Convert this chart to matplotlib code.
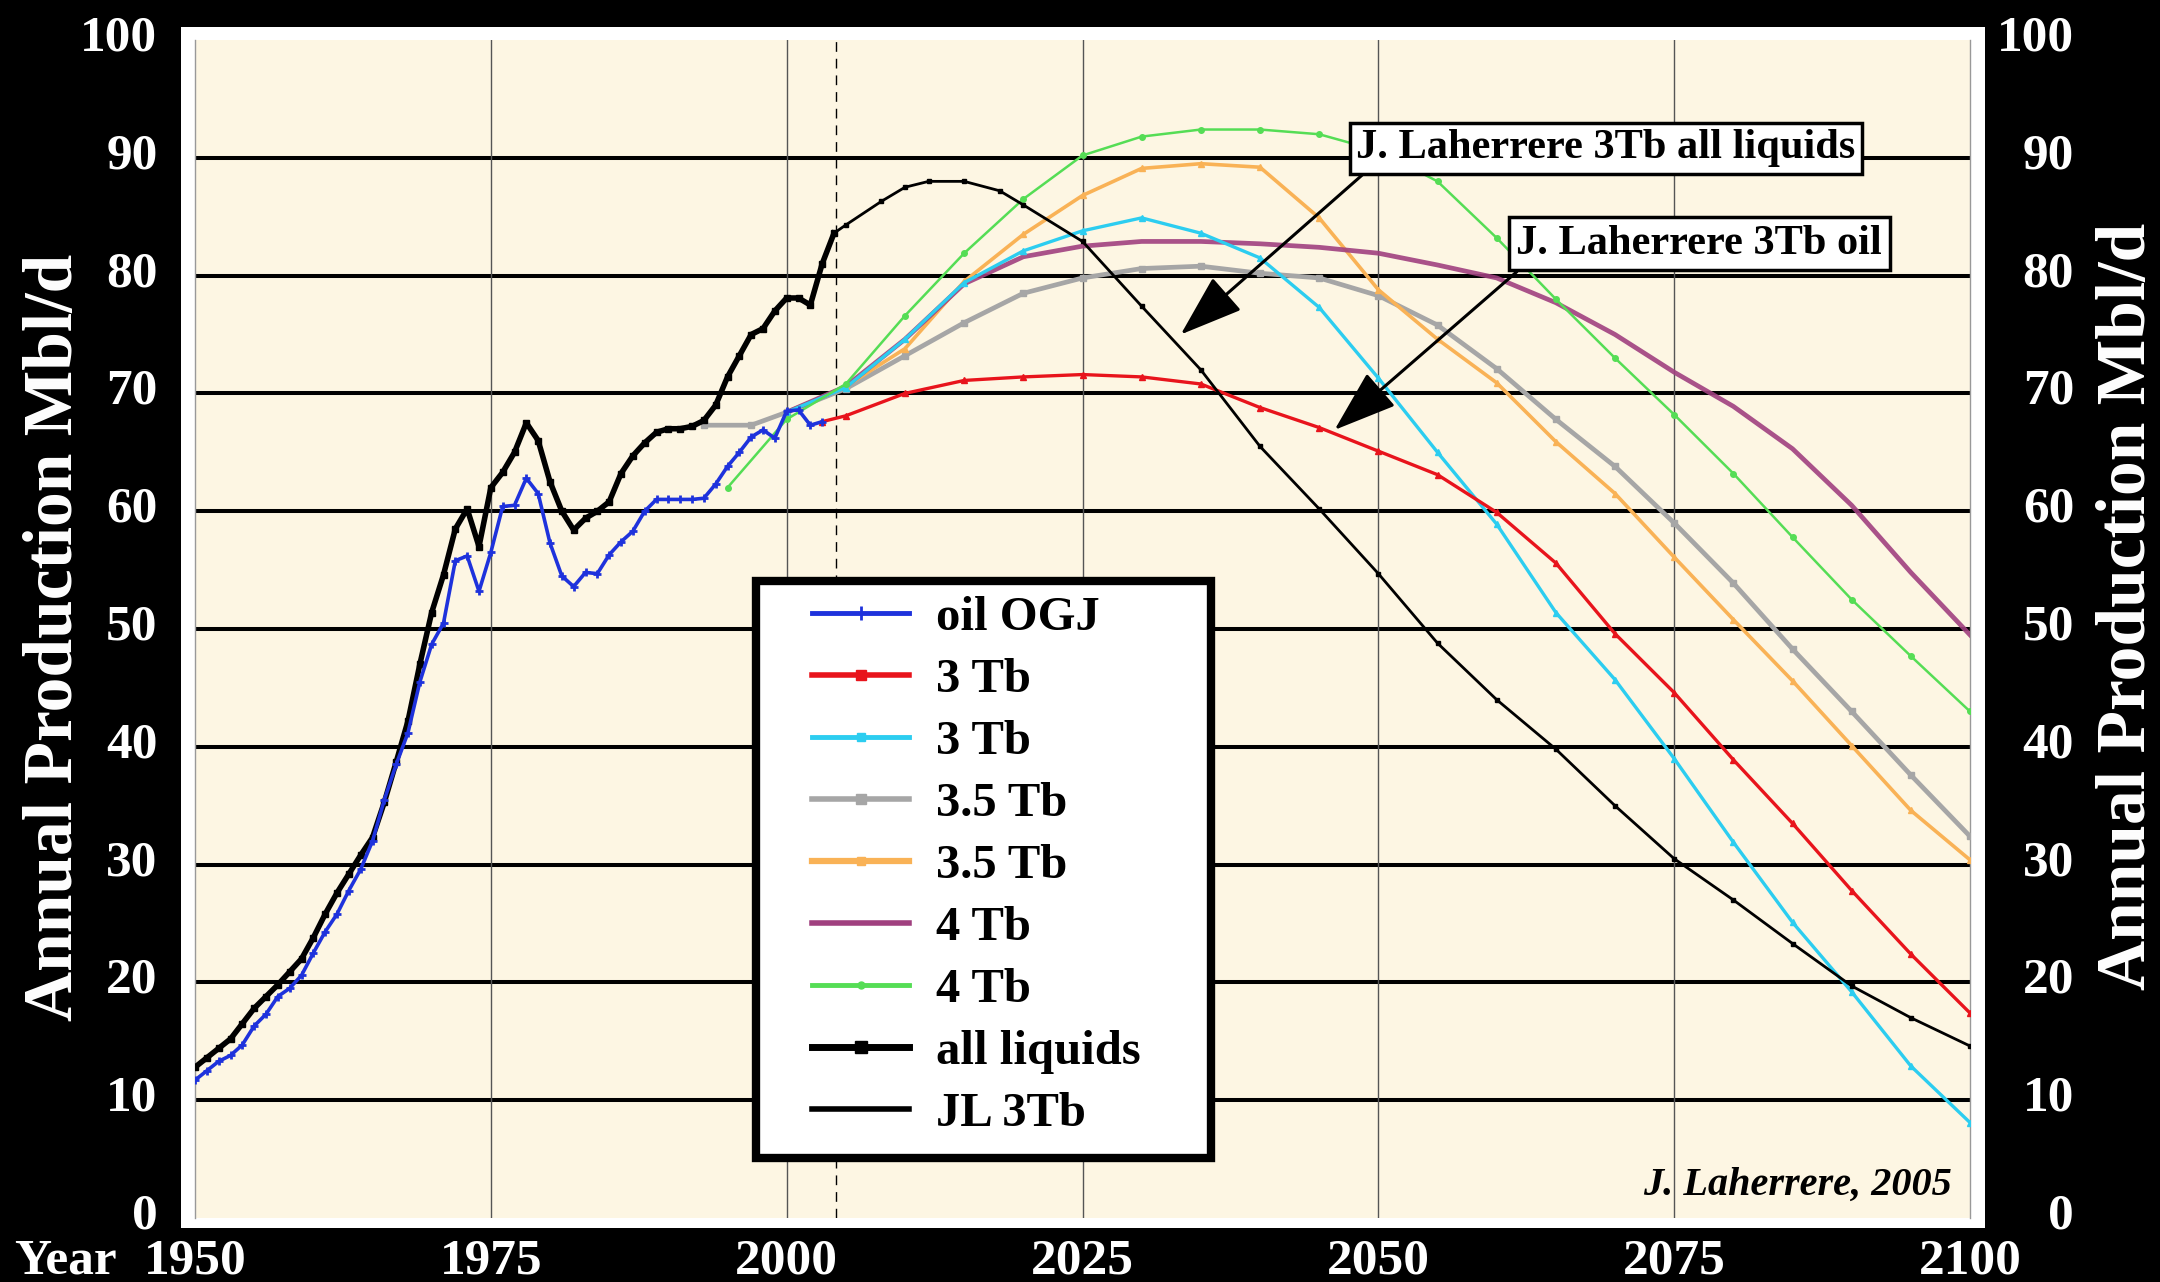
import matplotlib
matplotlib.use("Agg")
import matplotlib.pyplot as plt
import matplotlib.transforms as mtransforms
from matplotlib.patches import Rectangle

plt.rcParams["font.family"] = ["Liberation Serif", "DejaVu Serif"]
plt.rcParams["font.weight"] = "bold"

# ---------------- data ----------------
hist_years = list(range(1950, 2005))
all_liquids = [12.8, 13.6, 14.4, 15.2, 16.5, 17.8, 18.8, 19.8, 20.9, 22.0,
               23.8, 25.8, 27.6, 29.2, 30.8, 32.3, 35.3, 38.7, 42.2, 47.0,
               51.4, 54.6, 58.5, 60.2, 57.0, 62.0, 63.3, 65.0, 67.5, 66.0,
               62.5, 60.0, 58.4, 59.4, 60.0, 60.8, 63.2, 64.7, 65.8, 66.7,
               67.0, 67.0, 67.2, 67.7, 69.0, 71.4, 73.2, 75.0, 75.5, 77.0,
               78.1, 78.1, 77.5, 81.0, 83.6]

ogj_years = list(range(1950, 2004))
oil_ogj = [11.7, 12.5, 13.3, 13.8, 14.7, 16.3, 17.3, 18.8, 19.5, 20.6,
           22.5, 24.3, 25.8, 27.8, 29.6, 32.0, 35.5, 38.5, 41.2, 45.5,
           48.7, 50.5, 55.8, 56.2, 53.2, 56.5, 60.4, 60.5, 62.8, 61.5,
           57.3, 54.5, 53.6, 54.8, 54.7, 56.3, 57.4, 58.3, 60.0, 61.0,
           61.0, 61.0, 61.0, 61.1, 62.3, 63.8, 65.0, 66.3, 66.9, 66.2,
           68.5, 68.6, 67.3, 67.6]

fc_years = [2005, 2010, 2015, 2020, 2025, 2030, 2035, 2040, 2045, 2050,
            2055, 2060, 2065, 2070, 2075, 2080, 2085, 2090, 2095, 2100]

red_3tb = [68.1, 70.0, 71.1, 71.4, 71.6, 71.4, 70.8, 68.8, 67.1, 65.1,
           63.1, 59.9, 55.6, 49.6, 44.6, 38.9, 33.5, 27.8, 22.4, 17.4]
cyan_3tb = [70.5, 74.6, 79.4, 82.1, 83.8, 84.9, 83.6, 81.5, 77.3, 71.3,
            65.0, 58.9, 51.4, 45.7, 39.0, 31.9, 25.1, 19.2, 12.9, 8.1]
grey_35tb = [70.4, 73.2, 76.0, 78.5, 79.8, 80.6, 80.8, 80.2, 79.8, 78.3,
             75.8, 72.1, 67.8, 63.8, 59.0, 53.9, 48.3, 43.0, 37.6, 32.4]
orange_35tb = [70.6, 73.8, 79.5, 83.5, 86.8, 89.1, 89.5, 89.2, 84.9, 78.8,
               74.6, 70.9, 65.9, 61.5, 56.1, 50.8, 45.6, 40.1, 34.6, 30.4]
purple_4tb = [70.6, 74.6, 79.3, 81.6, 82.5, 82.9, 82.9, 82.7, 82.4, 81.9,
              80.9, 79.8, 77.7, 75.0, 71.8, 68.9, 65.3, 60.5, 54.8, 49.5]
green_4tb = [70.8, 76.6, 81.9, 86.5, 90.2, 91.8, 92.4, 92.4, 92.0, 90.6,
             88.0, 83.2, 78.0, 73.0, 68.2, 63.2, 57.8, 52.5, 47.7, 43.0]

# values where each forecast leaves the historical data
red_start = (2003, 67.6)
mid_start = (2000, 68.4)
grey_start_years = [1993, 1997, 2000]
grey_start_vals = [67.3, 67.3, 68.4]
green_start_years = [1995, 2000]
green_start_vals = [62.0, 67.8]

jl_years = [2004, 2005, 2008, 2010, 2012, 2015, 2018, 2020, 2025, 2030,
            2035, 2040, 2045, 2050, 2055, 2060, 2065, 2070, 2075, 2080,
            2085, 2090, 2095, 2100]
jl_3tb = [83.6, 84.3, 86.3, 87.5, 88.0, 88.0, 87.2, 86.0, 82.9, 77.4,
          72.0, 65.5, 60.2, 54.7, 48.8, 44.0, 39.8, 35.0, 30.5, 27.0,
          23.3, 19.7, 17.0, 14.6]

ytick_vals = list(range(0, 101, 10))
xtick_vals = [1950, 1975, 2000, 2025, 2050, 2075, 2100]

# ---------------- figure ----------------
W, H = 2160, 1282
fig = plt.figure(figsize=(W / 100, H / 100), dpi=100, facecolor="black")

# white frame around the plot area (behind the axes)
fig.patches.append(Rectangle((181 / W, 1 - 1228 / H), (1985 - 181) / W,
                             (1228 - 27) / H, transform=fig.transFigure,
                             facecolor="white", edgecolor="none", zorder=-5))

ax = fig.add_axes([195 / W, 1 - 1218 / H, (1970 - 195) / W, (1218 - 40) / H])
ax.set_facecolor("#fdf6e3")
ax.set_xlim(1950, 2100)
ax.set_ylim(0, 100)

for y in range(10, 100, 10):
    ax.axhline(y, color="black", lw=2.9, zorder=1)
for x in [1975, 2000, 2025, 2050, 2075]:
    ax.axvline(x, color="#555555", lw=1.0, zorder=1)
ax.axvline(2004.2, color="black", lw=1.0, ls=(0, (7, 5)), zorder=1)

for s in ["top", "bottom"]:
    ax.spines[s].set_visible(False)
for s in ["left", "right"]:
    ax.spines[s].set_color("#999999")
    ax.spines[s].set_linewidth(1.0)

ms = 5
# forecasts
ax.plot(grey_start_years + fc_years, grey_start_vals + grey_35tb,
        color="#a6a6a6", lw=3.4, marker="s", ms=ms, zorder=3)
ax.plot([mid_start[0]] + fc_years, [mid_start[1]] + orange_35tb,
        color="#f9b256", lw=2.6, marker="^", ms=ms, zorder=3)
ax.plot([mid_start[0]] + fc_years, [mid_start[1]] + purple_4tb,
        color="#a0407f", lw=3.4, alpha=0.9, zorder=3)
ax.plot([mid_start[0]] + fc_years, [mid_start[1]] + cyan_3tb,
        color="#2ccdf0", lw=2.4, marker="^", ms=ms, zorder=3)
ax.plot(green_start_years + fc_years, green_start_vals + green_4tb,
        color="#55dd55", lw=1.8, marker="o", ms=4, zorder=3)
ax.plot([red_start[0]] + fc_years, [red_start[1]] + red_3tb,
        color="#e8141c", lw=2.4, marker="^", ms=ms, zorder=4)
ax.plot(jl_years, jl_3tb, color="black", lw=2.0, marker="s", ms=2.5, zorder=4)
# history
ax.plot(hist_years, all_liquids, color="black", lw=4.0, marker="s", ms=4, zorder=5)
ax.plot(ogj_years, oil_ogj, color="#1e32dc", lw=2.6, marker="+", ms=6,
        mew=2, zorder=6)

# ticks
ax.set_xticks(xtick_vals)
ax.set_yticks(ytick_vals)
ax.tick_params(axis="both", length=0, colors="white", labelsize=37)
ax.tick_params(axis="y", pad=27)
ax.tick_params(axis="x", pad=15)

ax2 = ax.twinx()
ax2.set_ylim(0, 100)
ax2.set_yticks(ytick_vals)
ax2.tick_params(axis="y", length=0, colors="white", labelsize=37, pad=75)
for s in ax2.spines.values():
    s.set_visible(False)

# y tick labels sit a little above their grid lines
lift = mtransforms.ScaledTranslation(0, 7 / 100, fig.dpi_scale_trans)
for lab in ax.get_xticklabels():
    lab.set_fontweight("bold")
for lab in ax.get_yticklabels():
    lab.set_fontweight("bold")
    lab.set_transform(lab.get_transform() + lift)
for lab in ax2.get_yticklabels():
    lab.set_fontweight("bold")
    lab.set_horizontalalignment("right")
    lab.set_transform(lab.get_transform() + lift)

fig.text(14 / W, 1 - 1262 / H, "Year", color="white", fontsize=37,
         fontweight="bold", ha="left", va="center")
fig.text(55 / W, 1 - 637 / H, "Annual Production Mbl/d", color="white",
         fontsize=50, fontweight="bold", rotation=90, ha="center", va="center")
fig.text(2128 / W, 1 - 606 / H, "Annual Production Mbl/d", color="white",
         fontsize=50, fontweight="bold", rotation=90, ha="center", va="center")

# legend with a thick hand-drawn frame
fig.patches.append(Rectangle((756 / W, 1 - 1158 / H), (1211 - 756) / W,
                             (1158 - 581) / H, transform=fig.transFigure,
                             facecolor="white", edgecolor="black", lw=6,
                             zorder=10))
h = []
h += ax.plot([], [], color="#1e32dc", lw=3.5, marker="+", ms=10, mew=2)
h += ax.plot([], [], color="#e8141c", lw=4, marker="s", ms=7)
h += ax.plot([], [], color="#2ccdf0", lw=3.5, marker="s", ms=6)
h += ax.plot([], [], color="#a6a6a6", lw=4, marker="s", ms=7)
h += ax.plot([], [], color="#f9b256", lw=4.5, marker="s", ms=6)
h += ax.plot([], [], color="#a0407f", lw=4)
h += ax.plot([], [], color="#55dd55", lw=3.5, marker="o", ms=5)
h += ax.plot([], [], color="black", lw=5, marker="s", ms=8)
h += ax.plot([], [], color="black", lw=4)
labels = ["oil OGJ", "3 Tb", "3 Tb", "3.5 Tb", "3.5 Tb", "4 Tb", "4 Tb",
          "all liquids", "JL 3Tb"]
leg = fig.legend(h, labels, loc="upper left",
                 bbox_to_anchor=(812 / W, 1 - 596 / H), frameon=False,
                 prop={"size": 35, "weight": "bold"}, handlelength=2.0,
                 handletextpad=0.55, labelspacing=0.37, borderpad=0,
                 borderaxespad=0)
leg.set_zorder(11)

# annotations
arrow = dict(arrowstyle="-|>,head_length=1.3,head_width=0.45", color="black",
             lw=2.2, shrinkA=0, shrinkB=0, relpos=(0.03, 0.0))
ax.annotate("J. Laherrere 3Tb all liquids", xy=(2033.3, 75.0),
            xytext=(2069.2, 90.8), fontsize=30.5, fontweight="bold",
            ha="center", va="center", zorder=12,
            bbox=dict(boxstyle="square,pad=0.15", fc="white", ec="black", lw=2.5),
            arrowprops=arrow)
ax.annotate("J. Laherrere 3Tb oil", xy=(2046.3, 66.9),
            xytext=(2077.1, 82.7), fontsize=30.5, fontweight="bold",
            ha="center", va="center", zorder=12,
            bbox=dict(boxstyle="square,pad=0.18", fc="white", ec="black", lw=2.5),
            arrowprops=arrow)

ax.text(2098.5, 2.8, "J. Laherrere, 2005", fontsize=29, fontweight="bold",
        fontstyle="italic", ha="right", va="center", zorder=7)

fig.savefig("out.png", dpi=100, facecolor="black")
